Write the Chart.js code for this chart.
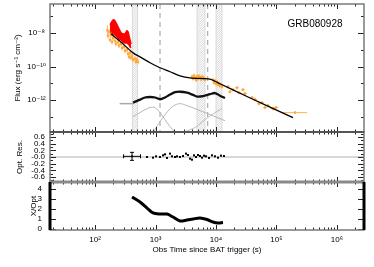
<!DOCTYPE html>
<html><head><meta charset="utf-8">
<script src="https://cdn.jsdelivr.net/npm/chart.js@4.4.1/dist/chart.umd.min.js"></script>
<style>html,body{margin:0;padding:0;background:#fff;}canvas{display:block;}</style>
</head><body>
<canvas id="c" width="374" height="267"></canvas>
<script>
const FONT = "'Liberation Sans','DejaVu Sans',Arial,sans-serif";

// ---------- data ----------
const grbName = "GRB080928";
const xTitle = "Obs Time since BAT trigger (s)";
const fluxTitle = "Flux (erg s\u207B\u00B9 cm\u207B\u00B2)";
const resTitle = "Opt. Res.";
const ratioTitle = "X/Opt";
const xTickLabels = {2:"10\u00B2",3:"10\u00B3",4:"10\u2074",5:"10\u2075",6:"10\u2076"};
const fluxTickLabels = {"-8":"10\u207B\u2078","-10":"10\u207B\u00B9\u2070","-12":"10\u207B\u00B9\u00B2"};
const resTickLabels = {"-0.6":"-0.6","-0.4":"-0.4","-0.2":"-0.2","0.0":"-0.0","0.2":"0.2","0.4":"0.4","0.6":"0.6"};

// red band (upper / lower flux)
const redTime  = [177,184,199,214,231,249,269,290,313,338,351,365,379,394];
const redUpper = [3.2e-8,4.1e-8,6.2e-8,5.4e-8,3.2e-8,1.8e-8,1.05e-8,9.1e-9,9.1e-9,1.4e-8,1.2e-8,6.9e-9,4.0e-9,2.3e-9];
const redLower = [6.9e-9,7.9e-9,9.1e-9,7.9e-9,6.0e-9,4.6e-9,4.0e-9,3.0e-9,2.6e-9,2.6e-9,2.3e-9,2.0e-9,1.5e-9,1.3e-9];

// orange XRT points
const xrtTime = [160,164,170,177,184,191,199,214,222,240,249,269,279,302,313,338,351,365,379,394,409,425,458,476,494,514,
  4010,4168,4330,4498,4670,4853,5040,5240,5443,5650,5870,6100,6340,6584,
  8918,9260,9623,10000,10390,10790,11220,11650,12100,12570,
  15780,17020,19090,22230,23990,27940,30130,39340,44170,51400,57500,64600,72400,87500,98100,202400];
const xrtFlux = [1.5e-8,6.9e-9,1.2e-8,4.0e-9,7.9e-9,3.0e-9,5.2e-9,3.5e-9,2.3e-9,3.0e-9,1.8e-9,2.3e-9,1.3e-9,1.5e-9,8.8e-10,1.0e-9,5.8e-10,3.8e-10,6.6e-10,3.4e-10,4.4e-10,2.6e-10,2.9e-10,1.95e-10,2.6e-10,1.95e-10,
  2.4e-11,1.9e-11,2.9e-11,2.1e-11,1.6e-11,2.6e-11,1.8e-11,2.7e-11,2.2e-11,1.7e-11,2.4e-11,1.9e-11,2.1e-11,1.6e-11,
  1.6e-11,1.07e-11,1.4e-11,9.3e-12,1.2e-11,8.1e-12,9.3e-12,7.1e-12,8.1e-12,6.2e-12,
  6.2e-12,3.1e-12,4.1e-12,5.4e-12,2.7e-12,4.1e-12,2.4e-12,1.4e-12,1.05e-12,6.0e-13,6.9e-13,3.5e-13,4.6e-13,3.0e-13,3.5e-13,1.74e-13];
const xrtFluxErrDex = [0.3,0.15,0.15,0.15,0.15,0.15,0.15,0.15,0.15,0.15,0.15,0.15,0.15,0.15,0.15,0.15,0.15,0.15,0.15,0.15,0.15,0.15,0.15,0.15,0.15,0.15,
  0.12,0.12,0.12,0.12,0.12,0.12,0.12,0.12,0.12,0.12,0.12,0.12,0.12,0.12,
  0.12,0.12,0.12,0.12,0.12,0.12,0.12,0.12,0.12,0.12,
  0.1,0.1,0.1,0.1,0.1,0.1,0.1,0.1,0.1,0.1,0.1,0.1,0.1,0.1,0.1,0.08];
const xrtTimeErrDex = [0.01,0.01,0.01,0.01,0.01,0.01,0.01,0.01,0.01,0.01,0.01,0.01,0.01,0.01,0.01,0.01,0.01,0.01,0.01,0.01,0.01,0.01,0.01,0.01,0.01,0.01,
  0.01,0.01,0.01,0.01,0.01,0.01,0.01,0.01,0.01,0.01,0.01,0.01,0.01,0.01,
  0.01,0.01,0.01,0.01,0.01,0.01,0.01,0.01,0.01,0.01,
  0.03,0.03,0.03,0.03,0.03,0.03,0.03,0.03,0.03,0.03,0.03,0.03,0.03,0.04,0.04,0.2];

// overall model (thin black)
const modelTime = [184,259,425,554,811,1187,1737,2541,3718,6584,7962,9623,11650,32540,187500];
const modelFlux = [9.1e-9,3.3e-9,6.6e-10,3.8e-10,1.7e-10,8.5e-11,4.9e-11,2.8e-11,2.1e-11,1.9e-11,1.75e-11,1.32e-11,9.3e-12,1.6e-12,8.7e-14];

// optical model (thick black) and its pieces (gray)
const sumTime = [425,554,670,811,981,1187,1435,1737,2100,2541,3318,4168,4853,6100,7962,9623,11650,14090];
const sumFlux = [6.9e-13,1.05e-12,1.4e-12,1.5e-12,1.4e-12,1.1e-12,1.4e-12,2.1e-12,2.9e-12,3.1e-12,2.7e-12,2.0e-12,1.6e-12,1.7e-12,2.2e-12,2.6e-12,1.8e-12,1.3e-12];
const plateauTime = [255,425];
const plateauFlux = [6.0e-13,6.0e-13];
const compATime = [425,554,670,811,981,1187,1435,1737,2100,2400];
const compAFlux = [1.0e-13,1.74e-13,2.6e-13,3.5e-13,3.5e-13,1.74e-13,6.6e-14,2.5e-14,1.1e-14,5e-15];
const compBTime = [900,981,1187,1435,1737,2100,2541,3318,4498,6584,9623,14090];
const compBFlux = [5e-15,1.7e-14,5.0e-14,1.3e-13,3.0e-13,5.0e-13,6.0e-13,4.6e-13,3.0e-13,1.74e-13,1.0e-13,5.7e-14];
const compCTime = [2800,3075,4498,6584,9623,12570];
const compCFlux = [5e-15,1.2e-14,2.2e-14,6.6e-14,1.74e-13,3.0e-13];

// shaded gaps and dashed markers (time, s)
const bandStart = [415,4853,10000];
const bandEnd   = [505,6584,12570];
const dashTimes = [1187,7300];

// optical residuals
const resTime  = [409,724,909,1020,1187,1331,1435,1549,1737,1875,2100,2265,2541,2851,3192,3445,3718,4010,4330,4670,5040,5443,5870,6340,6840,7660,8590,9623,10790,12100,13560];
const resValue = [0.02,0.0,-0.02,0.02,0.0,0.05,0.08,-0.03,0.1,0.02,0.0,0.02,0.0,0.03,0.1,0.06,-0.05,-0.08,0.05,0.0,0.06,0.03,-0.02,0.04,0.02,-0.03,0.05,0.02,-0.02,0.04,0.03];
const resErr   = [0.12,0.03,0.03,0.03,0.03,0.03,0.03,0.03,0.03,0.03,0.03,0.03,0.03,0.03,0.03,0.03,0.03,0.03,0.03,0.03,0.03,0.03,0.03,0.03,0.03,0.03,0.03,0.03,0.03,0.03,0.03];
const resTimeErrDex = [0.14,0.01,0.01,0.01,0.01,0.01,0.01,0.01,0.01,0.01,0.01,0.01,0.01,0.01,0.01,0.01,0.01,0.01,0.01,0.01,0.01,0.01,0.01,0.01,0.01,0.01,0.01,0.01,0.01,0.01,0.01];

// X-ray / optical ratio
const ratioTime  = [409,554,724,909,1187,1549,1945,2541,3318,4168,5443,7101,8918,10790,13060];
const ratioValue = [3.18,2.68,2.07,1.57,1.46,1.46,1.16,0.76,0.86,0.96,1.06,0.91,0.66,0.56,0.61];

// ---------- build ----------
const pts = (xs, ys) => xs.map((v, i) => ({x: v, y: ys[i]}));
const isDecade = v => Math.abs(Math.log10(v) - Math.round(Math.log10(v))) < 1e-6;

function drawErrBars(chart, ds, ys) {
  const ctx = chart.ctx, xs = chart.scales.x;
  ctx.save();
  ctx.strokeStyle = ds.errColor; ctx.lineWidth = 1;
  ds.data.forEach((p, i) => {
    const px = xs.getPixelForValue(p.x), py = ys.getPixelForValue(p.y);
    let y1, y2;
    if (ds.errLog) { y1 = ys.getPixelForValue(p.y * Math.pow(10, -ds.yErr[i])); y2 = ys.getPixelForValue(p.y * Math.pow(10, ds.yErr[i])); }
    else { y1 = ys.getPixelForValue(p.y - ds.yErr[i]); y2 = ys.getPixelForValue(p.y + ds.yErr[i]); }
    const x1 = xs.getPixelForValue(p.x * Math.pow(10, -ds.xErr[i])), x2 = xs.getPixelForValue(p.x * Math.pow(10, ds.xErr[i]));
    ctx.beginPath(); ctx.moveTo(px, y1); ctx.lineTo(px, y2); ctx.moveTo(x1, py); ctx.lineTo(x2, py); ctx.stroke();
    if (ds.caps && ds.yErr[i] > 0.05) {
      ctx.beginPath();
      ctx.moveTo(px - 2, y1); ctx.lineTo(px + 2, y1); ctx.moveTo(px - 2, y2); ctx.lineTo(px + 2, y2);
      ctx.moveTo(x1, py - 2); ctx.lineTo(x1, py + 2); ctx.moveTo(x2, py - 2); ctx.lineTo(x2, py + 2);
      ctx.stroke();
    }
  });
  ctx.restore();
}

const panelPlugin = {
  id: 'panels',
  beforeDatasetsDraw(chart) {
    const {ctx, chartArea: a, scales: {x, yTop, yRes}} = chart;
    ctx.save();
    for (let i = 0; i < bandStart.length; i++) {
      const x1 = x.getPixelForValue(bandStart[i]), x2 = x.getPixelForValue(bandEnd[i]);
      const h = yTop.bottom - yTop.top;
      ctx.save();
      ctx.beginPath(); ctx.rect(x1, yTop.top, x2 - x1, h); ctx.clip();
      ctx.strokeStyle = '#c6c6c6'; ctx.lineWidth = 0.7;
      for (let k = x1 - h; k < x2 + 2; k += 2.3) { ctx.beginPath(); ctx.moveTo(k, yTop.bottom); ctx.lineTo(k + h, yTop.top); ctx.stroke(); }
      ctx.restore();
      ctx.strokeStyle = '#d0d0d0'; ctx.lineWidth = 0.7;
      [x1, x2].forEach(px => { ctx.beginPath(); ctx.moveTo(px, yTop.top); ctx.lineTo(px, yTop.bottom); ctx.stroke(); });
    }
    ctx.setLineDash([5, 4]); ctx.strokeStyle = '#9a9a9a'; ctx.lineWidth = 1;
    dashTimes.forEach(t => { const px = x.getPixelForValue(t); ctx.beginPath(); ctx.moveTo(px, yTop.top); ctx.lineTo(px, yTop.bottom); ctx.stroke(); });
    ctx.setLineDash([]);
    const y0 = yRes.getPixelForValue(0);
    ctx.strokeStyle = '#b0b0b0'; ctx.lineWidth = 1;
    ctx.beginPath(); ctx.moveTo(a.left, y0); ctx.lineTo(a.right, y0); ctx.stroke();
    ctx.restore();
  },
  beforeDatasetDraw(chart, args) {
    const ctx = chart.ctx, a = chart.chartArea;
    const ds = chart.data.datasets[args.index];
    const ys = chart.scales[args.meta.yAxisID];
    ctx.save();
    ctx.beginPath(); ctx.rect(a.left, ys.top, a.right - a.left, ys.bottom - ys.top); ctx.clip();
    if (ds.yErr) drawErrBars(chart, ds, ys);
  },
  afterDatasetDraw(chart) { chart.ctx.restore(); },
  afterDatasetsDraw(chart) {
    const {ctx, chartArea: a, scales: {x, yTop, yRes, yRat}} = chart;
    ctx.save();
    const xt = [];
    for (let e = 1; e <= 6; e++) for (let m = 1; m <= 9; m++) { const v = m * Math.pow(10, e); if (v >= x.min && v <= x.max) xt.push([v, m === 1]); }
    const panels = [yTop, yRes, yRat];
    ctx.strokeStyle = '#222'; ctx.lineWidth = 1;
    panels.forEach(ys => {
      xt.forEach(([v, major]) => {
        const px = Math.round(x.getPixelForValue(v)) + 0.5, len = major ? 5 : 2.5;
        ctx.beginPath(); ctx.moveTo(px, ys.top); ctx.lineTo(px, ys.top + len);
        ctx.moveTo(px, ys.bottom); ctx.lineTo(px, ys.bottom - len); ctx.stroke();
      });
    });
    const yTicks = (ys, vals) => vals.forEach(([v, major]) => {
      const py = Math.round(ys.getPixelForValue(v)) + 0.5, len = major ? 6 : 3;
      ctx.beginPath(); ctx.moveTo(a.left, py); ctx.lineTo(a.left + len, py);
      ctx.moveTo(a.right, py); ctx.lineTo(a.right - len, py); ctx.stroke();
    });
    yTicks(yTop, [[1e-7, false], [1e-8, true], [1e-9, false], [1e-10, true], [1e-11, false], [1e-12, true], [1e-13, false]]);
    const rt = []; for (let k = -7; k <= 7; k++) rt.push([k / 10, k % 2 === 0]);
    yTicks(yRes, rt);
    yTicks(yRat, [[0, true], [1, true], [2, true], [3, true], [4, true]]);
    ctx.strokeStyle = '#7a7a7a'; ctx.lineWidth = 1.5;
    panels.forEach(ys => ctx.strokeRect(a.left, ys.top, a.right - a.left, ys.bottom - ys.top));
    ctx.strokeStyle = '#555'; ctx.lineWidth = 2;
    ctx.beginPath(); ctx.moveTo(a.left, yTop.bottom); ctx.lineTo(a.right, yTop.bottom); ctx.stroke();
    ctx.strokeStyle = '#8a8a8a'; ctx.lineWidth = 3;
    ctx.beginPath(); ctx.moveTo(a.left, yRes.bottom); ctx.lineTo(a.right, yRes.bottom); ctx.stroke();
    ctx.strokeStyle = '#000'; ctx.lineWidth = 3;
    ctx.beginPath(); ctx.moveTo(a.left, yRat.top); ctx.lineTo(a.left, yRat.bottom);
    ctx.moveTo(a.right, yRat.top); ctx.lineTo(a.right, yRat.bottom); ctx.stroke();
    ctx.fillStyle = '#000'; ctx.font = '10px ' + FONT; ctx.textAlign = 'center'; ctx.textBaseline = 'middle';
    ctx.fillText(grbName, a.left + 0.844 * (a.right - a.left), yTop.top + 0.156 * (yTop.bottom - yTop.top));
    ctx.restore();
  }
};

const tickFont = {family: FONT, size: 8};
const titleFont = {family: FONT, size: 8};
const noGrid = {display: false, drawTicks: false, tickLength: 0};
const fitY = s => { s.width = 50; s.paddingTop = 0; s.paddingBottom = 0; };

new Chart(document.getElementById('c'), {
  type: 'scatter',
  data: {
    datasets: [
      {label: 'res', data: pts(resTime, resValue), yAxisID: 'yRes', showLine: false, pointStyle: 'rect', pointRadius: 1.3,
        backgroundColor: '#000', borderColor: '#000', borderWidth: 0, yErr: resErr, xErr: resTimeErrDex, errLog: false, errColor: '#000', caps: true},
      {label: 'ratio', data: pts(ratioTime, ratioValue), yAxisID: 'yRat', showLine: true, borderColor: '#000', borderWidth: 3, pointRadius: 0, tension: 0.3},
      {label: 'model', data: pts(modelTime, modelFlux), yAxisID: 'yTop', showLine: true, borderColor: '#000', borderWidth: 1.3, pointRadius: 0, tension: 0.3},
      {label: 'sum', data: pts(sumTime, sumFlux), yAxisID: 'yTop', showLine: true, borderColor: '#111', borderWidth: 2.3, pointRadius: 0, tension: 0.3},
      {label: 'xrt', data: pts(xrtTime, xrtFlux), yAxisID: 'yTop', showLine: false, pointRadius: 1.3, backgroundColor: '#ffa93a', borderWidth: 0,
        yErr: xrtFluxErrDex, xErr: xrtTimeErrDex, errLog: true, errColor: '#ffb455'},
      {label: 'redUp', data: pts(redTime, redUpper), yAxisID: 'yTop', showLine: true, borderColor: '#ff0000', borderWidth: 1.5, pointRadius: 0,
        fill: '+1', backgroundColor: '#ff0000', tension: 0.2},
      {label: 'redLo', data: pts(redTime, redLower), yAxisID: 'yTop', showLine: true, borderColor: '#ff0000', borderWidth: 1.5, pointRadius: 0, tension: 0.2},
      {label: 'plateau', data: pts(plateauTime, plateauFlux), yAxisID: 'yTop', showLine: true, borderColor: '#a8a8a8', borderWidth: 1.5, pointRadius: 0},
      {label: 'compA', data: pts(compATime, compAFlux), yAxisID: 'yTop', showLine: true, borderColor: '#b0b0b0', borderWidth: 0.9, pointRadius: 0, tension: 0.3},
      {label: 'compB', data: pts(compBTime, compBFlux), yAxisID: 'yTop', showLine: true, borderColor: '#b0b0b0', borderWidth: 0.9, pointRadius: 0, tension: 0.3},
      {label: 'compC', data: pts(compCTime, compCFlux), yAxisID: 'yTop', showLine: true, borderColor: '#b8b8b8', borderWidth: 0.9, pointRadius: 0, tension: 0.3}
    ]
  },
  options: {
    responsive: false, animation: false, devicePixelRatio: 1,
    layout: {padding: {left: 0, right: 10, top: 4, bottom: 10}},
    plugins: {legend: {display: false}, tooltip: {enabled: false}},
    scales: {
      x: {type: 'logarithmic', position: 'bottom', min: 18, max: 2.8e6, grid: noGrid, border: {display: false},
        ticks: {autoSkip: false, maxRotation: 0, padding: 5, font: tickFont, color: '#000',
          callback: v => isDecade(v) ? (xTickLabels[Math.round(Math.log10(v))] || null) : null},
        title: {display: true, text: xTitle, font: titleFont, color: '#000', padding: {top: 2, bottom: 2}},
        afterFit(s) { s.height = 27; s.paddingLeft = 0; s.paddingRight = 0; }},
      yRat: {type: 'linear', position: 'left', stack: 'p', stackWeight: 48, min: -0.15, max: 4.7, grid: noGrid, border: {display: false},
        ticks: {stepSize: 1, includeBounds: false, autoSkip: false, padding: 8, crossAlign: 'near', font: tickFont, color: '#000'},
        title: {display: true, text: ratioTitle, font: titleFont, color: '#000', padding: {top: 29, bottom: 0}},
        afterFit: fitY},
      yRes: {type: 'linear', position: 'left', stack: 'p', stackWeight: 50, min: -0.75, max: 0.75, grid: noGrid, border: {display: false},
        ticks: {stepSize: 0.2, includeBounds: false, autoSkip: false, padding: 5, crossAlign: 'near', font: tickFont, color: '#000',
          callback: v => resTickLabels[(Math.abs(v) < 1e-9 ? 0 : v).toFixed(1)] || null},
        title: {display: true, text: resTitle, font: titleFont, color: '#000', padding: {top: 15, bottom: 0}},
        afterFit: fitY},
      yTop: {type: 'logarithmic', position: 'left', stack: 'p', stackWeight: 128, min: 1.2e-14, max: 5.6e-7, grid: noGrid, border: {display: false},
        ticks: {autoSkip: false, padding: 4, crossAlign: 'center', font: tickFont, color: '#000',
          callback: v => isDecade(v) ? (fluxTickLabels[String(Math.round(Math.log10(v)))] || null) : null},
        title: {display: true, text: fluxTitle, font: titleFont, color: '#000', padding: {top: 13, bottom: 0}},
        afterFit: fitY}
    }
  },
  plugins: [panelPlugin]
});
</script>
</body></html>
